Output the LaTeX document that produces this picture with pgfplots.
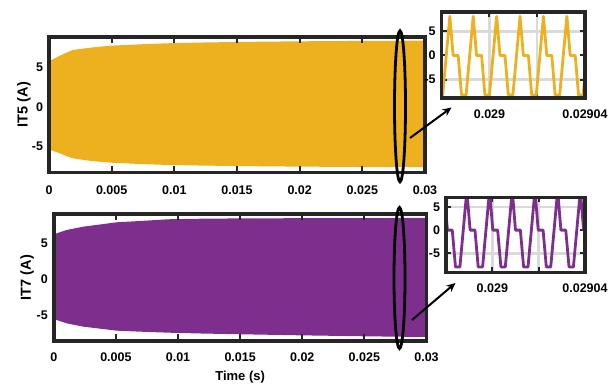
\documentclass[border=0pt]{standalone}
\usepackage{pgfplots}
\pgfplotsset{compat=1.18}
\usepackage{fontspec}
\setmainfont{Liberation Sans}
\usetikzlibrary{arrows.meta}
\definecolor{ycol}{RGB}{237,177,32}
\definecolor{pcol}{RGB}{126,47,142}
\definecolor{framec}{RGB}{38,38,38}
\definecolor{gridc}{RGB}{218,218,218}
\pgfplotsset{
  common/.style={
    scale only axis, anchor=south west,
    axis line style={line width=3.5pt, framec, line cap=rect},
    tick align=inside,
    every tick/.style={framec, line width=2pt},
    tick label style={font=\bfseries\fontsize{12.5}{14}\selectfont},
    scaled ticks=false,
    yticklabel style={anchor=east, xshift=-2.5pt},
  },
  mainax/.style={common, axis on top,
    xmin=0, xmax=0.03,
    xtick={0,0.005,0.01,0.015,0.02,0.025,0.03},
    xticklabels={0,0.005,0.01,0.015,0.02,0.025,0.03},
    ytick={-5,0,5}, yticklabels={-5,0,5},
    major tick length=6.5pt,
    y tick style={draw=none},
  },
  inset/.style={common, clip mode=individual,
    xmin=28980, xmax=29040,
    xtick={29000,29020,29040}, xticklabels={0.029,,0.02904},
    ytick={-5,5}, yticklabels={-5,5},
    extra y ticks={0}, extra y tick labels={0},
    extra y tick style={grid=none},
    grid=major, grid style={gridc, line width=2.5pt},
    major tick length=5pt,
    xticklabel style={anchor=center, yshift=-16pt},
  },
}
\begin{document}
\begin{tikzpicture}
\useasboundingbox (0pt,0pt) rectangle (616pt,385pt);

% ---------- top main axis ----------
\begin{axis}[mainax, at={(49pt,212.5pt)}, width=376pt, height=135.7pt,
  ymin=-8.26, ymax=8.85,
  xticklabel style={anchor=center, yshift=-17.5pt},
  ylabel={IT5 (A)},
  every axis y label/.style={at={(axis description cs:-0.0665,0.5)}, rotate=90, anchor=center,
    font=\bfseries\fontsize{14.5}{16}\selectfont},
]
\addplot[fill=ycol, draw=none] coordinates {
 (0,5.6) (0.0002,5.93) (0.00088,6.47) (0.0014,6.85) (0.0019,7.19) (0.0033,7.48)
 (0.0049,7.73) (0.0073,7.9) (0.0094,8.03) (0.012,8.12) (0.015,8.2) (0.02,8.28)
 (0.025,8.33) (0.03,8.36)
 (0.03,-7.6) (0.025,-7.57) (0.02,-7.52) (0.015,-7.45) (0.012,-7.38) (0.0094,-7.31)
 (0.0073,-7.19) (0.0049,-7.02) (0.0033,-6.8) (0.0019,-6.47) (0.0014,-6.2)
 (0.00088,-5.84) (0.0001,-5.42) (0,-5.2)
} -- cycle;
\end{axis}

% ---------- bottom main axis ----------
\begin{axis}[mainax, at={(53.8pt,44pt)}, width=372.7pt, height=127pt,
  ymin=-8.53, ymax=9.03,
  xticklabel style={anchor=center, yshift=-16pt},
  ylabel={IT7 (A)}, xlabel={Time (s)},
  every axis y label/.style={at={(axis description cs:-0.0719,0.5)}, rotate=90, anchor=center,
    font=\bfseries\fontsize{14.5}{16}\selectfont},
  every axis x label/.style={at={(axis description cs:0.5,-0.283)}, anchor=center,
    font=\bfseries\fontsize{13}{15}\selectfont},
]
\addplot[fill=pcol, draw=none] coordinates {
 (0,6.0) (0.00023,6.36) (0.00104,6.82) (0.00238,7.28) (0.00506,7.88) (0.00694,8.06)
 (0.00922,8.3) (0.012,8.38) (0.015,8.42) (0.02,8.45) (0.025,8.47) (0.03,8.48)
 (0.03,-7.98) (0.025,-7.88) (0.02,-7.75) (0.015,-7.6) (0.012,-7.5) (0.00922,-7.38)
 (0.00694,-7.24) (0.00506,-7.1) (0.00238,-6.55) (0.00104,-6.09) (0.00023,-5.63) (0,-5.4)
} -- cycle;
\end{axis}

% ---------- top inset ----------
\begin{axis}[inset, at={(441.7pt,287pt)}, width=143.3pt, height=86pt,
  ymin=-8.8, ymax=9.0]
\addplot[ycol, line width=2.8pt, line join=round] coordinates {
 (28978.5,-8.2) (28980.4,-8.2) (28983.4,8.1) (28984.8,0) (28986.9,0) (28988.3,-8.2)
 (28990.2,-8.2) (28993.2,8.1) (28994.6,0) (28996.7,0) (28998.1,-8.2)
 (29000.0,-8.2) (29003.0,8.1) (29004.4,0) (29006.5,0) (29007.9,-8.2)
 (29009.8,-8.2) (29012.8,8.1) (29014.2,0) (29016.3,0) (29017.7,-8.2)
 (29019.6,-8.2) (29022.6,8.1) (29024.0,0) (29026.1,0) (29027.5,-8.2)
 (29029.4,-8.2) (29032.4,8.1) (29033.8,0) (29035.9,0) (29037.3,-8.2)
 (29039.2,-8.2) (29042.2,8.1)
};
\draw[framec, line width=3.5pt] (rel axis cs:0,0) rectangle (rel axis cs:1,1);
\end{axis}

% ---------- bottom inset ----------
\begin{axis}[inset, at={(446pt,112.5pt)}, width=139pt, height=75pt,
  ymin=-9.1, ymax=7.0]
\addplot[pcol, line width=2.8pt, line join=round] coordinates {
 (28979.2,8.5) (28980.6,0) (28982.7,0) (28984.1,-7.9) (28986.0,-7.9)
 (28989.0,8.5) (28990.4,0) (28992.5,0) (28993.9,-7.9) (28995.8,-7.9)
 (28998.8,8.5) (29000.2,0) (29002.3,0) (29003.7,-7.9) (29005.6,-7.9)
 (29008.6,8.5) (29010.0,0) (29012.1,0) (29013.5,-7.9) (29015.4,-7.9)
 (29018.4,8.5) (29019.8,0) (29021.9,0) (29023.3,-7.9) (29025.2,-7.9)
 (29028.2,8.5) (29029.6,0) (29031.7,0) (29033.1,-7.9) (29035.0,-7.9)
 (29038.0,8.5) (29039.4,0) (29041.5,0)
};
\draw[framec, line width=3.5pt] (rel axis cs:0,0) rectangle (rel axis cs:1,1);
\end{axis}

% ---------- annotations ----------
\draw[black, line width=2.8pt] (400pt,278.7pt) ellipse [x radius=5.5pt, y radius=75.5pt];
\draw[black, line width=2.8pt] (399.5pt,107pt) ellipse [x radius=5.5pt, y radius=70.5pt];
\draw[black, line width=2pt, -{Stealth[length=9pt, width=8pt]}] (410pt,247pt) -- (451.5pt,277.5pt);
\draw[black, line width=2pt, -{Stealth[length=9pt, width=8pt]}] (412pt,65pt) -- (455.5pt,102pt);
\end{tikzpicture}
\end{document}
